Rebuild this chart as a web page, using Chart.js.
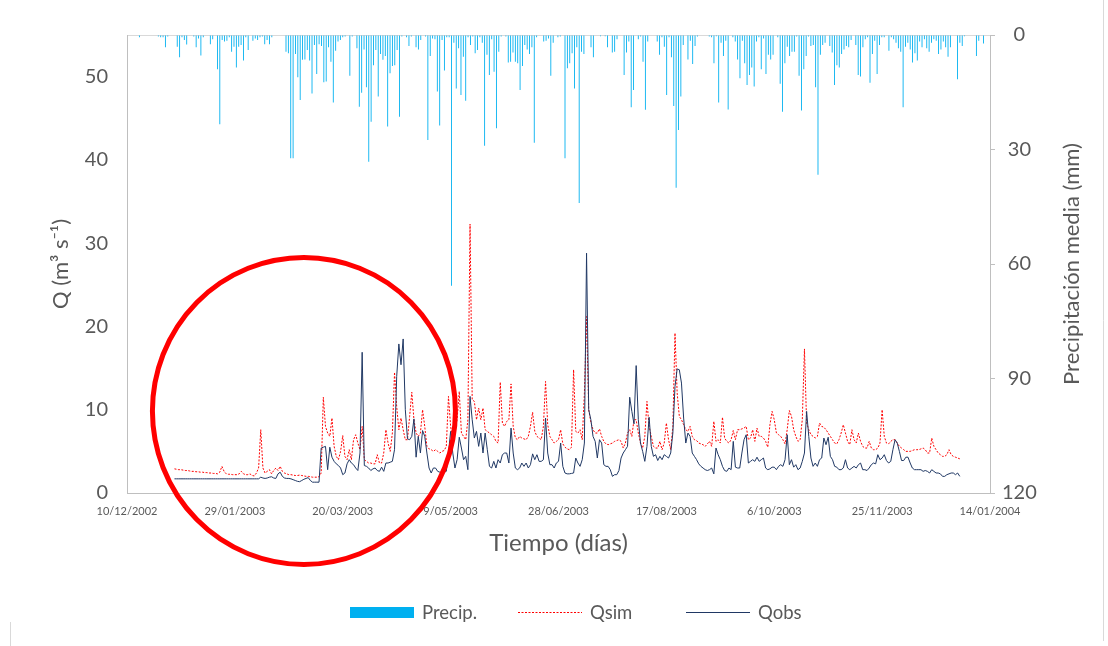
<!DOCTYPE html>
<html>
<head>
<meta charset="utf-8">
<script src="https://cdn.jsdelivr.net/npm/chart.js@4"></script>
<style>
  html, body { margin: 0; padding: 0; background: #fff; }
  canvas { display: block; }
</style>
</head>
<body>
<canvas id="grafico-caudal" width="1108" height="646"></canvas>
<script>
// etiquetas del eje de tiempo (un tick cada 50 dias desde 10/12/2002)
var fechasEje = ["10/12/2002", "29/01/2003", "20/03/2003", "9/05/2003", "28/06/2003",
                 "17/08/2003", "6/10/2003", "25/11/2003", "14/01/2004"];

// los caudales empiezan el 1/01/2003 = dia 22 del eje
var diaInicioQ = 22;

// precipitacion media diaria 2003 (mm)
var precip = [
  0,0,0,0,0,0.6,0,0,0,0,
  0,0,0,0.4,0.6,0.6,3.2,0.4,0,0,
  0,3.1,5.8,0.6,1.3,2.5,0,0,0.4,3.2,
  0.9,5.4,0.6,0,0,2.4,1.1,0,9.0,23.4,
  1.3,1.7,1.5,0.6,4.4,3.1,8.5,3.1,2.6,6.7,
  0.6,3.9,0,1.5,0.9,1.3,0.6,0.4,2.4,1.3,
  2.4,0.6,0,0,0,0,0,4.4,4.8,32.3,
  32.3,5.0,11.1,17.0,6.5,6.4,3.9,6.7,15.3,2.6,
  10.2,2.4,2.9,12.4,12.2,3.2,7.0,17.7,4.1,1.7,
  1.3,0.6,0.4,0,10.7,0.4,0,3.5,18.8,15.1,
  3.8,13.7,33.2,22.7,7.9,3.9,16.1,5.0,6.5,5.5,
  24.0,10.0,8.1,7.9,3.9,21.4,0.4,0,0.6,2.9,
  0.4,0,3.2,3.8,1.3,0,0.4,27.5,5.5,0.9,
  1.1,14.8,23.7,1.3,9.3,0.6,0.6,65.7,2.0,14.0,
  3.5,15.7,5.7,17.2,0.6,2.6,0.4,4.8,3.9,0.6,
  2.0,29.0,5.2,10.5,1.1,9.6,24.4,4.4,0.4,0,
  0.4,7.2,7.0,4.6,7.0,7.4,14.4,8.1,2.6,3.8,
  5.0,3.2,28.2,0.6,0,0,1.7,1.5,0.9,10.7,
  2.0,0,0.6,0.4,0,32.3,8.7,7.4,4.8,14.0,
  3.2,44.0,4.4,5.0,0,0,3.2,5.8,0,0,
  0.3,0,0.3,3.2,0,4.6,4.4,1.1,0,0,
  10.5,4.6,1.7,18.9,14.4,0,1.1,0.4,7.0,19.6,
  1.7,0,0,0,1.7,5.2,0.6,3.1,15.7,0.6,
  5.8,18.6,40.0,24.9,16.1,2.6,0,6.4,1.5,7.6,
  2.9,0.4,0,0,0,0,0.4,0.6,7.4,0.3,
  17.7,2.0,5.5,1.5,19.5,0,0.6,1.7,6.4,11.3,
  1.5,7.4,13.1,10.5,8.5,13.5,1.7,0.6,9.0,0.9,
  10.2,5.2,6.4,5.2,0,0.6,12.8,20.1,7.4,3.1,
  5.5,4.4,4.4,0.4,10.7,19.8,9.0,5.5,0.4,2.9,
  2.6,13.7,36.6,5.2,2.6,2.0,0,2.9,4.6,13.1,
  7.9,8.5,5.0,3.8,2.9,3.2,1.3,0,2.6,10.5,
  10.9,3.2,1.1,0.6,12.5,5.0,1.5,10.2,2.6,0.6,
  0.6,0,4.1,0.6,1.1,2.0,3.5,4.4,18.9,3.1,
  2.0,3.8,7.2,4.8,6.7,1.7,3.2,1.1,3.5,4.4,
  2.0,1.1,1.5,5.0,3.8,1.7,3.2,5.7,3.2,0,
  0,11.6,2.0,2.9,0.3,0,0,0,0,5.5,
  1.5,0,2.2,0,0
];

// caudal simulado (m3/s)
var qSim = [
  2.9,2.85,2.8,2.8,2.75,2.7,2.7,2.65,2.6,2.6,
  2.55,2.55,2.5,2.5,2.45,2.45,2.4,2.4,2.35,2.35,
  2.3,2.5,3.2,2.6,2.3,2.25,2.25,2.2,2.2,2.2,
  2.3,2.6,2.3,2.2,2.2,2.3,2.1,2.05,2.4,3.0,
  7.6,3.0,2.4,2.6,2.8,2.3,2.7,3.0,2.7,3.2,
  2.6,2.4,2.3,2.2,2.2,2.15,2.1,2.1,2.15,2.1,
  2.05,2.0,2.0,1.95,1.9,1.9,1.9,1.95,2.4,11.5,
  8.0,7.2,6.8,9.0,5.6,4.4,4.0,5.0,6.9,4.4,
  4.0,5.2,4.0,6.4,7.0,6.0,5.2,8.0,4.0,3.8,
  3.6,3.6,3.5,3.5,4.6,3.6,3.6,4.8,7.6,6.0,
  5.0,7.2,14.5,10.4,7.6,9.0,7.6,6.4,6.4,9.2,
  12.1,8.8,7.2,6.8,7.2,10.0,8.0,5.6,5.3,5.2,
  5.0,5.2,5.0,4.8,5.0,5.1,5.6,11.6,8.0,6.4,
  7.2,8.8,12.2,7.2,6.8,6.4,8.8,32.3,11.2,11.0,
  8.8,10.2,8.8,10.2,7.6,7.4,7.2,7.0,6.8,6.2,
  6.0,13.3,8.4,8.0,8.6,8.8,13.1,8.0,6.6,6.4,
  6.8,6.6,6.5,6.4,6.8,8.0,9.7,7.4,6.8,6.6,
  6.4,8.0,13.4,8.2,6.8,6.4,6.0,6.2,6.4,7.6,
  5.9,5.5,5.3,5.2,5.5,14.8,7.4,7.2,7.6,6.4,
  12.0,21.2,10.0,8.5,7.6,7.2,7.2,7.7,6.8,6.2,
  5.9,5.8,5.9,6.0,6.2,6.3,6.4,6.2,5.4,6.0,
  7.2,7.6,6.8,8.8,8.8,7.2,6.0,5.4,6.8,11.0,
  8.0,6.8,5.6,5.4,5.4,6.2,5.2,6.0,8.4,6.4,
  5.2,8.0,19.2,12.0,9.2,8.8,8.2,7.6,7.4,8.0,
  6.8,6.4,6.3,6.0,5.9,5.8,5.6,5.9,6.2,5.6,
  8.6,6.2,6.4,6.0,9.1,6.6,6.2,6.0,6.4,7.5,
  6.4,7.6,7.6,7.7,7.8,8.0,6.4,6.6,7.6,6.2,
  7.8,6.8,6.8,6.6,6.2,5.5,8.2,9.8,8.8,7.2,
  7.0,6.8,6.4,5.9,7.6,9.9,9.2,7.6,6.8,6.2,
  6.4,8.8,17.3,8.4,7.6,7.0,6.8,6.6,6.8,8.4,
  8.0,7.9,7.6,7.2,6.8,6.4,6.0,5.9,6.4,7.2,
  8.2,7.2,6.2,5.8,7.6,6.4,6.0,7.2,6.2,5.6,
  5.4,5.4,6.2,5.4,5.2,5.2,5.4,6.0,10.0,6.8,
  6.0,5.9,6.2,6.4,6.4,6.0,5.6,5.4,5.2,5.0,
  5.0,5.0,5.1,5.2,5.2,5.2,5.3,5.4,5.2,4.8,
  4.8,6.6,5.6,5.2,4.8,4.6,4.4,4.4,4.6,5.2,
  4.6,4.4,4.3,4.2,4.1
];

// caudal observado (m3/s)
var qObs = [
  1.7,1.7,1.7,1.7,1.7,1.7,1.7,1.7,1.7,1.7,
  1.7,1.7,1.7,1.7,1.7,1.7,1.7,1.7,1.7,1.7,
  1.7,1.7,1.7,1.7,1.7,1.7,1.7,1.7,1.7,1.7,
  1.7,1.7,1.7,1.7,1.7,1.7,1.7,1.7,1.7,1.7,
  1.9,1.8,1.75,1.8,1.9,1.95,1.8,1.75,2.3,2.5,
  2.0,1.8,1.75,1.75,1.7,1.6,1.5,1.4,1.36,1.5,
  1.65,1.75,1.85,1.5,1.3,1.3,1.3,1.3,5.4,5.5,
  5.6,2.8,5.5,4.3,3.8,3.5,3.3,3.0,2.2,2.4,
  3.5,4.0,3.6,3.4,3.0,2.7,4.8,16.9,3.3,3.2,
  3.0,2.7,2.9,3.0,2.7,2.6,3.1,2.6,3.6,3.6,
  3.7,3.8,5.2,14.0,17.9,15.4,18.5,10.0,6.5,6.4,
  6.8,8.9,4.3,6.8,4.8,7.5,6.8,4.8,3.0,2.4,
  3.0,3.0,2.6,2.5,2.4,2.5,2.6,4.8,7.4,4.8,
  3.0,4.0,6.7,5.4,4.0,4.4,2.8,11.6,8.8,6.6,
  7.4,5.6,7.2,4.8,7.2,5.2,3.2,3.0,3.8,3.0,
  4.0,3.6,4.6,4.8,4.8,3.6,7.8,4.8,3.0,2.8,
  3.0,3.6,3.2,3.6,3.0,3.4,4.7,4.0,4.6,3.8,
  3.8,4.0,9.0,4.8,3.4,3.4,3.0,3.6,3.8,6.0,
  3.2,2.4,2.3,2.3,2.35,2.4,4.2,3.6,3.2,4.0,
  6.0,28.8,10.0,8.8,6.8,6.2,4.2,6.4,6.0,3.4,
  3.2,3.2,2.8,2.0,2.2,2.2,2.7,4.2,4.8,5.2,
  5.6,11.5,9.8,8.3,15.3,8.8,6.0,5.0,3.8,5.6,
  9.1,5.6,4.4,4.6,3.9,4.4,4.0,4.6,4.4,4.2,
  4.8,7.2,12.8,14.9,14.8,13.2,9.0,6.0,7.2,6.8,
  4.8,4.4,4.0,3.5,3.2,3.0,2.8,2.7,2.8,3.0,
  2.3,5.4,4.6,4.0,3.2,2.7,2.6,3.0,2.8,6.2,
  3.1,3.0,3.0,4.8,6.4,7.0,3.6,3.8,4.0,3.8,
  4.3,3.8,4.0,4.2,3.0,2.8,2.9,3.1,3.1,2.8,
  3.2,3.4,3.2,4.0,7.0,3.4,4.0,3.1,3.4,2.8,
  3.0,3.8,4.8,9.8,6.8,4.2,3.2,3.6,3.2,4.0,
  4.2,6.6,5.8,6.7,4.4,4.0,3.2,3.1,2.8,2.8,
  3.0,4.0,3.0,2.8,3.0,3.2,3.0,3.4,3.6,2.8,
  2.8,2.7,3.0,3.4,3.6,3.5,4.6,4.0,4.2,4.6,
  3.9,3.6,3.8,5.2,6.4,6.0,5.0,3.9,3.9,4.3,
  4.3,3.6,3.0,2.8,2.8,2.8,2.8,2.6,2.7,2.6,
  2.4,2.8,2.6,2.4,2.4,2.3,2.0,2.0,2.2,2.3,
  2.4,2.4,2.2,2.4,2.0
];

var tituloDerecho = "Precipitación media (mm)";
var gris = "#595959";
var fuente = "Lato";

// una categoria por dia de 2003 para las barras de lluvia
var diasPrecip = [];
for (var i = 0; i < precip.length; i++) {
    var f = new Date(2003, 0, 1 + i);
    diasPrecip.push(f.getDate() + "/" + (f.getMonth() + 1) + "/" + f.getFullYear());
}

function puntos(serie) {
    var out = [];
    for (var i = 0; i < serie.length; i++) {
        out.push({ x: diaInicioQ + i, y: serie[i] });
    }
    return out;
}

// marco gris del area del grafico (borde derecho e inferior izquierdo)
var marco = {
    id: "marco",
    beforeDraw: function (chart) {
        var ctx = chart.ctx;
        ctx.save();
        ctx.strokeStyle = "#D9D9D9";
        ctx.lineWidth = 1;
        ctx.beginPath();
        ctx.moveTo(1103.5, 0);
        ctx.lineTo(1103.5, 641);
        ctx.moveTo(10.5, 622);
        ctx.lineTo(10.5, 646);
        ctx.stroke();
        ctx.restore();
    }
};

// leyenda estilo Excel: casillas de ancho fijo
var leyenda = {
    id: "leyenda",
    afterDraw: function (chart) {
        var ctx = chart.ctx;
        var y = 612;
        ctx.save();
        ctx.font = "18.5px " + fuente;
        ctx.textBaseline = "middle";
        chart.data.datasets.forEach(function (d, k) {
            var x = 350 + k * 168;
            if (d.type === "bar") {
                ctx.fillStyle = d.backgroundColor;
                ctx.fillRect(x, y - 5, 64, 11);
            } else {
                ctx.strokeStyle = d.borderColor;
                ctx.lineWidth = d.borderWidth;
                ctx.setLineDash(d.borderDash || []);
                ctx.beginPath();
                ctx.moveTo(x, y + 0.5);
                ctx.lineTo(x + 64, y + 0.5);
                ctx.stroke();
                ctx.setLineDash([]);
            }
            ctx.fillStyle = gris;
            ctx.fillText(d.label, x + 72, y + 1);
        });
        ctx.restore();
    }
};

// titulo del eje secundario, leido de abajo hacia arriba como en Excel
var tituloSecundario = {
    id: "tituloSecundario",
    afterDraw: function (chart) {
        var a = chart.chartArea;
        var ctx = chart.ctx;
        ctx.save();
        ctx.translate(1072, (a.top + a.bottom) / 2);
        ctx.rotate(-Math.PI / 2);
        ctx.font = "22px " + fuente;
        ctx.fillStyle = gris;
        ctx.textAlign = "center";
        ctx.textBaseline = "middle";
        ctx.fillText(tituloDerecho, 0, 0);
        ctx.restore();
    }
};

// circulo rojo que marca el periodo inicial
var circulo = {
    id: "circulo",
    afterDraw: function (chart) {
        var ctx = chart.ctx;
        var cx = chart.scales.x.getPixelForValue(82);
        var cy = chart.scales.y.getPixelForValue(9.85);
        ctx.save();
        ctx.strokeStyle = "#FF0000";
        ctx.lineWidth = 5;
        ctx.beginPath();
        ctx.ellipse(cx, cy, 151.5, 153.5, 0, 0, Math.PI * 2);
        ctx.stroke();
        ctx.restore();
    }
};

Chart.defaults.font.family = fuente;
Chart.defaults.color = gris;

var referencia = document.querySelector("#grafico-caudal").getContext("2d");

var graficoCaudal = new Chart(referencia, {
    data: {
        datasets: [{
            type: "bar",
            label: "Precip.",
            data: precip,
            xAxisID: "xp",
            yAxisID: "yp",
            backgroundColor: "#00B0F0",
            barPercentage: 0.75,
            categoryPercentage: 1,
            order: 3
        }, {
            type: "line",
            label: "Qsim",
            data: puntos(qSim),
            xAxisID: "x",
            yAxisID: "y",
            borderColor: "#FF0000",
            borderWidth: 1,
            borderDash: [2, 1.5],
            pointRadius: 0,
            fill: false,
            order: 2
        }, {
            type: "line",
            label: "Qobs",
            data: puntos(qObs),
            xAxisID: "x",
            yAxisID: "y",
            borderColor: "#203864",
            borderWidth: 1,
            pointRadius: 0,
            fill: false,
            order: 1
        }]
    },
    options: {
        responsive: false,
        animation: false,
        devicePixelRatio: 1,
        events: [],
        layout: { padding: 0 },
        plugins: {
            legend: { display: false },
            tooltip: { enabled: false }
        },
        scales: {
            x: {
                type: "linear",
                position: "bottom",
                min: 0,
                max: 400,
                ticks: {
                    stepSize: 50,
                    autoSkip: false,
                    maxRotation: 0,
                    padding: 12,
                    font: { size: 11 },
                    callback: function (v) { return fechasEje[v / 50]; }
                },
                grid: { display: false, drawTicks: false },
                border: { color: "#BFBFBF" },
                title: { display: true, text: "Tiempo (días)", font: { size: 24 }, padding: { top: 0, bottom: 88 } },
                afterFit: function (s) { s.height = 153; }
            },
            xp: {
                type: "category",
                position: "top",
                labels: diasPrecip,
                offset: true,
                ticks: { display: false },
                grid: { display: false, drawTicks: false },
                border: { color: "#D9D9D9" },
                afterFit: function (s) { s.height = 35; }
            },
            y: {
                type: "linear",
                position: "left",
                min: 0,
                max: 55,
                ticks: { stepSize: 10, includeBounds: false, padding: 19, font: { size: 20 } },
                grid: { display: false, drawTicks: false },
                border: { color: "#BFBFBF" },
                title: { display: true, text: "Q (m³ s⁻¹)", font: { size: 22 }, padding: { top: 48, bottom: 0 } },
                afterFit: function (s) { s.width = 127; }
            },
            yp: {
                type: "linear",
                position: "right",
                reverse: true,
                min: 0,
                max: 120,
                ticks: { stepSize: 30, padding: 7, crossAlign: "center", font: { size: 20 } },
                grid: { display: true, drawOnChartArea: false, drawTicks: true, tickLength: 5, color: "#BFBFBF" },
                border: { color: "#BFBFBF" },
                afterFit: function (s) { s.width = 118; }
            }
        }
    },
    plugins: [marco, leyenda, tituloSecundario, circulo]
});
</script>
</body>
</html>
